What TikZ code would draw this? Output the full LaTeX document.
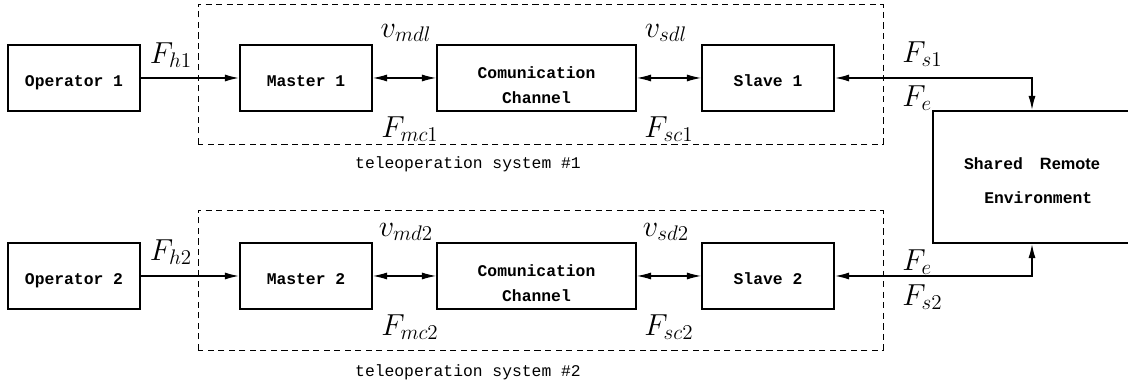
\documentclass[tikz,border=0pt]{standalone}
\usepackage{fontspec}
\setmonofont{Liberation Mono}
\newfontfamily\helv{Liberation Sans}
\usepackage{tikz}
\usetikzlibrary{arrows.meta}

\begin{document}
\begin{tikzpicture}[
  >={Latex[length=8pt,width=4pt]},
  block/.style={draw,line width=1.1pt,minimum width=2.64cm,minimum height=1.32cm,
    align=center,font=\ttfamily\bfseries\fontsize{9.3}{14.2}\selectfont},
  oneline/.style={block,text height=12pt,text depth=2pt},
  sysbox/.style={draw,line width=0.55pt,dash pattern=on 3.5pt off 2.5pt},
  sysname/.style={font=\ttfamily\fontsize{9.3}{11}\selectfont},
  lbl/.style={inner sep=0pt,font=\fontsize{17}{20}\selectfont},
  link/.style={<->,line width=0.6pt},
  force/.style={line width=0.85pt}
  ]
\def\ya{6.18}
\def\yb{2.22}
\useasboundingbox (0,0) rectangle (22.56,7.74);
\clip (0,0) rectangle (22.56,7.74);

% the two teleoperation systems
\draw[sysbox] (3.96,4.86) rectangle (17.66,7.66);
\draw[sysbox] (3.96,0.74) rectangle (17.66,3.54);
\node[sysname] (sys1) at (9.36,4.46) {teleoperation system \#1};
\node[sysname] (sys2) at (9.36,0.30) {teleoperation system \#2};

% blocks, first chain
\node[oneline] (op1) at (1.48,\ya) {Operator 1};
\node[oneline] (m1) at (6.12,\ya) {Master 1};
\node[block,minimum width=3.98cm] (cc1) at (10.73,\ya) {\rule{0pt}{15pt}Comunication\\Channel};
\node[oneline] (s1) at (15.36,\ya) {Slave 1};

% blocks, second chain
\node[oneline] (op2) at (1.48,\yb) {Operator 2};
\node[oneline] (m2) at (6.12,\yb) {Master 2};
\node[block,minimum width=3.98cm] (cc2) at (10.73,\yb) {\rule{0pt}{15pt}Comunication\\Channel};
\node[oneline] (s2) at (15.36,\yb) {Slave 2};

% shared environment
\node[block,minimum width=3.96cm,minimum height=2.64cm,
  font=\ttfamily\bfseries\fontsize{9.3}{19}\selectfont]
  (env) at (20.64,4.2) {\rule{0pt}{11pt}Shared\hspace{0.34cm}{\helv\bfseries Remote}\\\hspace{0.25cm}Environment};

% connectors
\draw[->,force] (op1) -- (m1);
\draw[link] (m1) -- (cc1);
\draw[link] (cc1) -- (s1);
\draw[<->,force] (s1) -| (env);
\draw[->,force] (op2) -- (m2);
\draw[link] (m2) -- (cc2);
\draw[link] (cc2) -- (s2);
\draw[<->,force] (s2) -| (env);

% signal labels
\node[lbl] (fh1) at (3.42,6.64) {$F_{h1}$};
\node[lbl] (vm1) at (8.12,7.08) {$v_{mdl}$};
\node[lbl] (fm1) at (8.2,5.16) {$F_{mc1}$};
\node[lbl] (vs1) at (13.32,7.08) {$v_{sdl}$};
\node[lbl] (fc1) at (13.38,5.16) {$F_{sc1}$};
\node[lbl,anchor=west] (fs1) at (18.04,6.66) {$F_{s1}$};
\node[lbl,anchor=west] (fe1) at (18.04,5.78) {$F_e$};
\node[lbl] (fh2) at (3.42,2.7) {$F_{h2}$};
\node[lbl] (vm2) at (8.12,3.1) {$v_{md2}$};
\node[lbl] (fm2) at (8.2,1.2) {$F_{mc2}$};
\node[lbl] (vs2) at (13.32,3.1) {$v_{sd2}$};
\node[lbl] (fc2) at (13.38,1.2) {$F_{sc2}$};
\node[lbl,anchor=west] (fe2) at (18.04,2.5) {$F_e$};
\node[lbl,anchor=west] (fs2) at (18.04,1.8) {$F_{s2}$};
\end{tikzpicture}
\end{document}
